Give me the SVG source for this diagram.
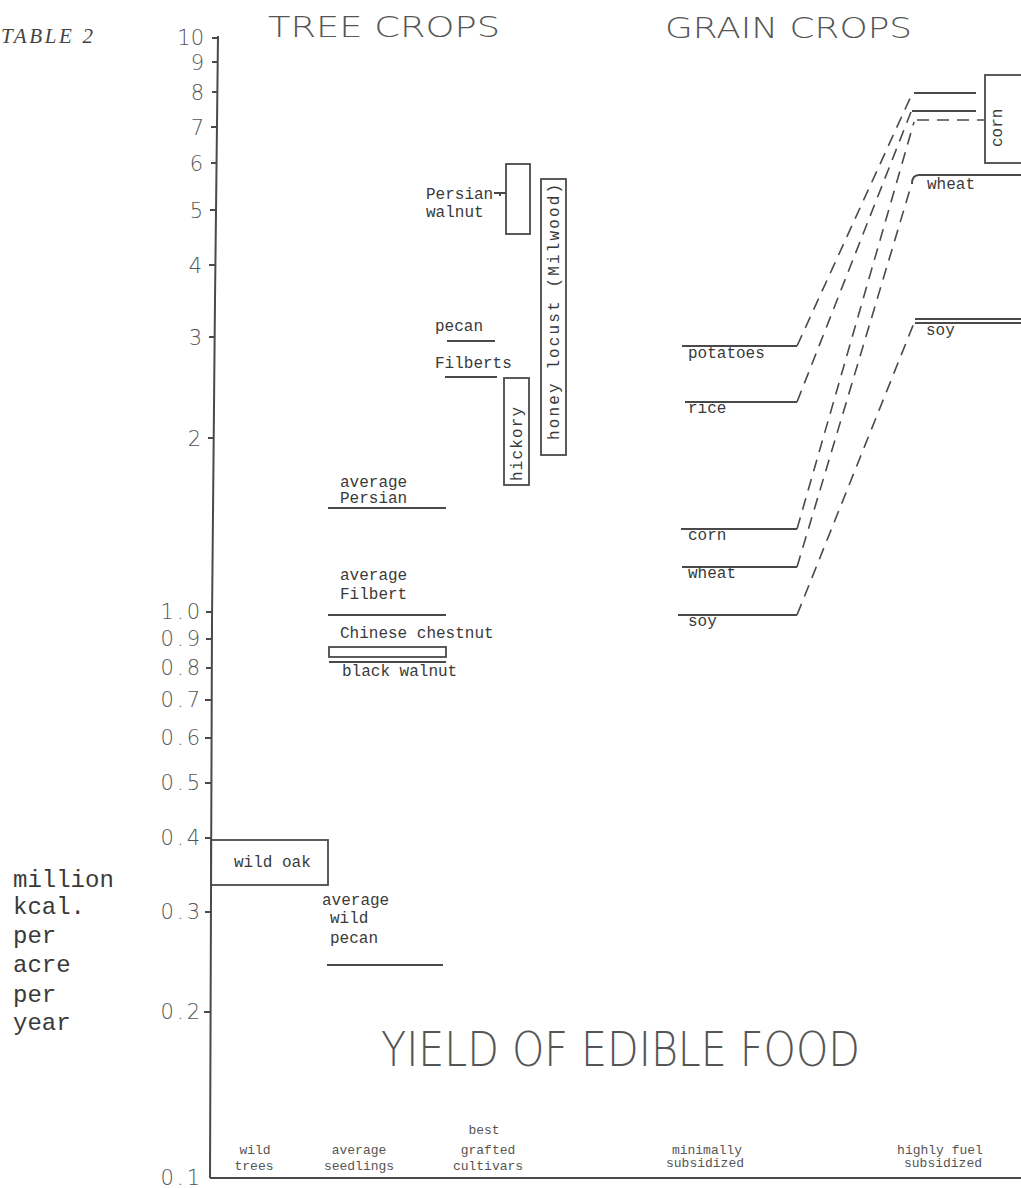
<svg xmlns="http://www.w3.org/2000/svg" width="1021" height="1188" viewBox="0 0 1021 1188">
<style>
  .thin { font-family: "DejaVu Sans", "Liberation Sans", sans-serif; font-weight: 200; fill: #555; }
  .tick { font-family: "DejaVu Sans", "Liberation Sans", sans-serif; font-weight: 200; fill: #555; font-size: 21px; text-anchor: end; }
  .mono { font-family: "Liberation Mono", "DejaVu Sans Mono", monospace; fill: #3a3a3a; font-size: 16px; }
  .unit { font-family: "Liberation Mono", "DejaVu Sans Mono", monospace; fill: #3a3a3a; font-size: 24px; }
  .small { font-family: "Liberation Mono", "DejaVu Sans Mono", monospace; fill: #555; font-size: 13px; text-anchor: middle; }
  .ln { stroke: #4a4a4a; stroke-width: 2; fill: none; }
  .box { stroke: #4a4a4a; stroke-width: 1.8; fill: none; }
  .dash { stroke: #4a4a4a; stroke-width: 1.6; fill: none; stroke-dasharray: 12 8; }
</style>
<rect x="0" y="0" width="1021" height="1188" fill="#fff"/>

<text x="1" y="43" font-family="Liberation Serif, serif" font-style="italic" font-size="21" textLength="92" lengthAdjust="spacing" fill="#444">TABLE 2</text>

<g id="titles">
  <text class="thin" x="268" y="37" font-size="29" textLength="232" lengthAdjust="spacingAndGlyphs">TREE CROPS</text>
  <text class="thin" x="665" y="38" font-size="29" textLength="247" lengthAdjust="spacingAndGlyphs">GRAIN CROPS</text>
  <text class="thin" x="381" y="1066" font-size="48" textLength="479" lengthAdjust="spacingAndGlyphs">YIELD OF EDIBLE FOOD</text>
</g>

<g id="y-axis">
  <polyline class="ln" stroke-width="1.8" points="218,36 215,300 212,620 210,1178"/>
  <path class="ln" stroke-width="1.6" d="M212,38h6 M212,62h6 M212,92h6 M211,127h6 M211,163h6 M210,210h6 M209,265h6 M209,337h6 M208,438h6 M206,612h6 M206,639h6 M206,668h6 M205,700h6 M205,738h6 M205,783h6 M205,838h6 M205,912h6 M204,1012h6"/>
  <text class="tick" x="204" y="45">10</text>
  <text class="tick" x="204" y="70">9</text>
  <text class="tick" x="204" y="100">8</text>
  <text class="tick" x="204" y="135">7</text>
  <text class="tick" x="203" y="171">6</text>
  <text class="tick" x="203" y="218">5</text>
  <text class="tick" x="202" y="273">4</text>
  <text class="tick" x="202" y="345">3</text>
  <text class="tick" x="201" y="446">2</text>
  <text class="tick" x="203" y="619" letter-spacing="3">1.0</text>
  <text class="tick" x="203" y="646" letter-spacing="3">0.9</text>
  <text class="tick" x="203" y="675" letter-spacing="3">0.8</text>
  <text class="tick" x="203" y="707" letter-spacing="3">0.7</text>
  <text class="tick" x="203" y="745" letter-spacing="3">0.6</text>
  <text class="tick" x="203" y="790" letter-spacing="3">0.5</text>
  <text class="tick" x="203" y="845" letter-spacing="3">0.4</text>
  <text class="tick" x="203" y="919" letter-spacing="3">0.3</text>
  <text class="tick" x="203" y="1019" letter-spacing="3">0.2</text>
  <text class="tick" x="203" y="1185" letter-spacing="3">0.1</text>
</g>

<g id="x-axis">
  <line class="ln" x1="210" y1="1178" x2="1021" y2="1178"/>
  <text class="small" x="255" y="1154">wild</text>
  <text class="small" x="254" y="1170">trees</text>
  <text class="small" x="359" y="1154">average</text>
  <text class="small" x="359" y="1170">seedlings</text>
  <text class="small" x="484" y="1134">best</text>
  <text class="small" x="488" y="1154">grafted</text>
  <text class="small" x="488" y="1170">cultivars</text>
  <text class="small" x="707" y="1154">minimally</text>
  <text class="small" x="705" y="1167">subsidized</text>
  <text class="small" x="940" y="1154">highly fuel</text>
  <text class="small" x="943" y="1167">subsidized</text>
</g>

<g id="units">
  <text class="unit" x="13" y="887">million</text>
  <text class="unit" x="13" y="914">kcal.</text>
  <text class="unit" x="13" y="943">per</text>
  <text class="unit" x="13" y="972">acre</text>
  <text class="unit" x="13" y="1002">per</text>
  <text class="unit" x="13" y="1030">year</text>
</g>

<g id="wild-oak">
  <rect class="box" x="211" y="840" width="117" height="45"/>
  <text class="mono" x="234" y="867">wild oak</text>
</g>

<g id="average-wild-pecan">
  <text class="mono" x="322" y="905">average</text>
  <text class="mono" x="330" y="923">wild</text>
  <text class="mono" x="330" y="943">pecan</text>
  <line class="ln" x1="327" y1="965" x2="443" y2="965"/>
</g>

<g id="average-persian">
  <text class="mono" x="340" y="487">average</text>
  <text class="mono" x="340" y="503">Persian</text>
  <line class="ln" x1="328" y1="508" x2="446" y2="508"/>
</g>

<g id="average-filbert">
  <text class="mono" x="340" y="580">average</text>
  <text class="mono" x="340" y="599">Filbert</text>
  <line class="ln" x1="328" y1="615" x2="446" y2="615"/>
</g>

<g id="chinese-chestnut">
  <text class="mono" x="340" y="638">Chinese chestnut</text>
  <rect class="box" x="329" y="647" width="117" height="10"/>
</g>

<g id="black-walnut">
  <line class="ln" x1="329" y1="662" x2="446" y2="662"/>
  <text class="mono" x="342" y="676">black walnut</text>
</g>

<g id="pecan">
  <text class="mono" x="435" y="331">pecan</text>
  <line class="ln" x1="447" y1="341" x2="495" y2="341"/>
</g>

<g id="filberts">
  <text class="mono" x="435" y="368">Filberts</text>
  <line class="ln" x1="445" y1="377" x2="497" y2="377"/>
</g>

<g id="persian-walnut">
  <rect class="box" x="506" y="164" width="24" height="70"/>
  <text class="mono" x="426" y="199">Persian</text>
  <path class="ln" stroke-width="1.6" d="M494,193 H506 M500,193 v3"/>
  <text class="mono" x="426" y="217">walnut</text>
</g>

<g id="honey-locust">
  <rect class="box" x="541" y="179" width="25" height="276"/>
  <text class="mono" transform="translate(559,440) rotate(-90)" textLength="256" lengthAdjust="spacing">honey locust (Milwood)</text>
</g>

<g id="hickory">
  <rect class="box" x="504" y="378" width="25" height="107"/>
  <text class="mono" transform="translate(522,481) rotate(-90)" textLength="74" lengthAdjust="spacing">hickory</text>
</g>

<g id="minimal-grains">
  <line class="ln" x1="682" y1="346" x2="797" y2="346"/>
  <text class="mono" x="688" y="358">potatoes</text>
  <line class="ln" x1="685" y1="402" x2="797" y2="402"/>
  <text class="mono" x="688" y="413">rice</text>
  <line class="ln" x1="681" y1="529" x2="797" y2="529"/>
  <text class="mono" x="688" y="540">corn</text>
  <line class="ln" x1="682" y1="567" x2="797" y2="567"/>
  <text class="mono" x="688" y="578">wheat</text>
  <line class="ln" x1="678" y1="615" x2="797" y2="615"/>
  <text class="mono" x="688" y="626">soy</text>
</g>

<g id="subsidized-grains">
  <line class="ln" x1="914" y1="93" x2="976" y2="93"/>
  <line class="ln" stroke-width="4" x1="912" y1="111" x2="976" y2="111"/>
  <line class="dash" stroke-width="2" stroke-dasharray="14 6" x1="917" y1="120" x2="985" y2="120"/>
  <rect class="box" x="985" y="75" width="50" height="88"/>
  <text class="mono" transform="translate(1002,147) rotate(-90)">corn</text>
  <path class="ln" d="M912,184 Q912,175 919,175 H1021"/>
  <text class="mono" x="927" y="189">wheat</text>
  <line class="ln" x1="915" y1="319" x2="1021" y2="319"/>
  <line class="ln" stroke-width="1.4" x1="915" y1="323" x2="1021" y2="323"/>
  <text class="mono" x="926" y="335">soy</text>
</g>

<g id="connectors">
  <line class="dash" x1="797" y1="346" x2="912" y2="94"/>
  <line class="dash" x1="797" y1="402" x2="911" y2="112"/>
  <line class="dash" x1="797" y1="529" x2="914" y2="122"/>
  <line class="dash" x1="797" y1="567" x2="911" y2="186"/>
  <line class="dash" x1="797" y1="615" x2="914" y2="323"/>
</g>
</svg>
